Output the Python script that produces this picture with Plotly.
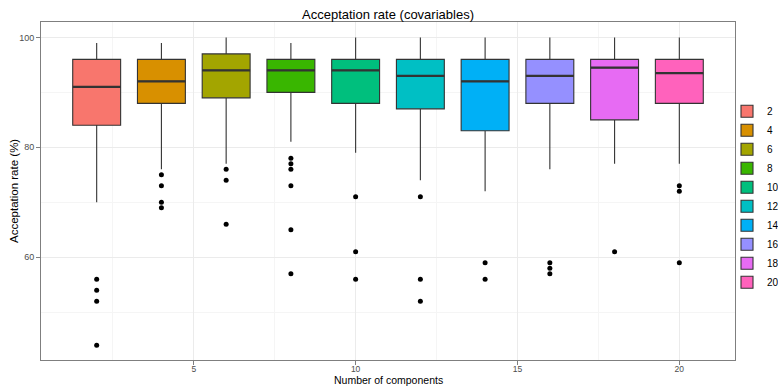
import plotly.graph_objects as go

components = [2, 4, 6, 8, 10, 12, 14, 16, 18, 20]
upper_whisker = [99, 99, 100, 99, 100, 100, 100, 100, 100, 100]
q3 = [96, 96, 97, 96, 96, 96, 96, 96, 96, 96]
median = [91, 92, 94, 94, 94, 93, 92, 93, 94.5, 93.5]
q1 = [84, 88, 89, 90, 88, 87, 83, 88, 85, 88]
lower_whisker = [70, 76, 77, 81, 79, 74, 72, 76, 77, 77]
outliers = [
    [56, 54, 52, 44],
    [75, 73, 70, 69],
    [76, 74, 66],
    [78, 77, 76, 73, 65, 57],
    [71, 61, 56],
    [71, 56, 52],
    [59, 56],
    [59, 58, 57],
    [61],
    [73, 72, 59],
]
colors = ["#F8766D", "#D89000", "#A3A500", "#39B600", "#00BF7D",
          "#00BFC4", "#00B0F6", "#9590FF", "#E76BF3", "#FF62BC"]
box_width = 1.48
FONT = "Liberation Sans, Arial"

fig = go.Figure()
for i, c in enumerate(components):
    fig.add_trace(go.Box(
        x=[c], q1=[q1[i]], median=[median[i]], q3=[q3[i]],
        lowerfence=[lower_whisker[i]], upperfence=[upper_whisker[i]],
        width=box_width, fillcolor=colors[i],
        line=dict(color="#333333", width=1.1),
        name=str(c), boxpoints=False, whiskerwidth=0,
    ))

# thicker median segments (ggplot style)
mx, my = [], []
for i, c in enumerate(components):
    mx += [c - box_width / 2, c + box_width / 2, None]
    my += [median[i], median[i], None]
fig.add_trace(go.Scatter(x=mx, y=my, mode="lines",
                         line=dict(color="#333333", width=2.2),
                         showlegend=False, hoverinfo="skip"))

for i, c in enumerate(components):
    fig.add_trace(go.Scatter(
        x=[c] * len(outliers[i]), y=outliers[i], mode="markers",
        marker=dict(color="black", size=5), showlegend=False,
        hoverinfo="y",
    ))

axis_common = dict(
    showline=True, linecolor="#7f7f7f", linewidth=1, mirror=True,
    ticks="outside", ticklen=4, tickcolor="#7f7f7f",
    gridcolor="#ebebeb", gridwidth=1,
    zeroline=False, automargin=False,
)
fig.update_layout(
    width=778, height=387,
    margin=dict(l=41, r=43, t=22, b=27, autoexpand=False),
    paper_bgcolor="white", plot_bgcolor="white",
    font=dict(family=FONT, color="black"),
    title=dict(text="Acceptation rate (covariables)", x=0.5, xref="paper",
               xanchor="center", y=1 - 14 / 387, yanchor="middle",
               font=dict(size=13)),
    xaxis=dict(range=[0.28, 21.72], tickvals=[5, 10, 15, 20],
               ticklabelstandoff=-3,
               tickfont=dict(family=FONT, size=8.5, color="#4d4d4d"),
               **axis_common),
    yaxis=dict(range=[41.3, 102.8], tickvals=[60, 80, 100],
               tickfont=dict(family=FONT, size=9, color="#4d4d4d"),
               **axis_common),
    legend=dict(xref="container", yref="container", x=727 / 778, y=0.5,
                xanchor="left", yanchor="middle",
                font=dict(size=10, color="black"), tracegroupgap=0,
                itemwidth=30, bgcolor="rgba(0,0,0,0)"),
    showlegend=True,
    annotations=[
        dict(text="Number of components", xref="paper", yref="paper",
             x=0.5, y=(360 - 387) / 338, xanchor="center", yanchor="bottom",
             borderpad=0, showarrow=False, font=dict(size=10.5, color="black")),
        dict(text="Acceptation rate (%)", xref="paper", yref="paper",
             x=(14 - 41) / 694, y=(360 - 191) / 338, xanchor="center",
             yanchor="middle", textangle=-90,
             showarrow=False, font=dict(size=11.5, color="black")),
    ],
)
fig.update_xaxes(minor=dict(tickvals=[2.5, 7.5, 12.5, 17.5], ticks="",
                            showgrid=True, gridcolor="#f5f5f5", gridwidth=1))
fig.update_yaxes(minor=dict(tickvals=[50, 70, 90], ticks="",
                            showgrid=True, gridcolor="#f5f5f5", gridwidth=1))

fig.write_html("out.html")
